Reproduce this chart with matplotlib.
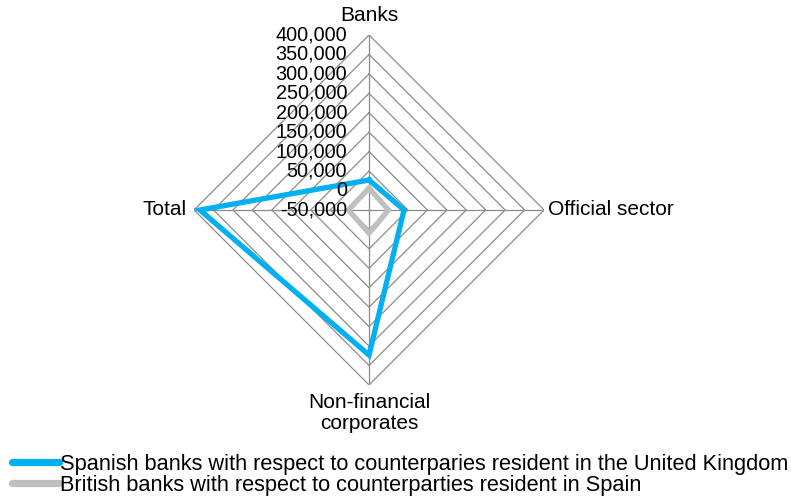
import numpy as np
import matplotlib.pyplot as plt
from matplotlib.lines import Line2D
from matplotlib.transforms import offset_copy

plt.rcParams["font.family"] = ["Liberation Sans", "DejaVu Sans"]

CATEGORIES = ["Banks", "Official sector", "Non-financial\ncorporates", "Total"]
SPANISH_IN_UK = [27000, 40000, 323000, 385000]
BRITISH_IN_SPAIN = [6000, 0, 10000, 3000]
SERIES_NAMES = [
    "Spanish banks with respect to counterparies resident in the United Kingdom",
    "British banks with respect to counterparties resident in Spain",
]
R_TICKS = list(range(-50000, 400001, 50000))

BLUE = "#00B0F0"
GREY = "#BFBFBF"
GRID = "#8C8C8C"

fig = plt.figure(figsize=(7.91, 4.97), dpi=100)
ax = fig.add_axes([0.2453, 0.2254, 0.4425, 0.7042], projection="polar")
ax.set_theta_offset(np.pi / 2)
ax.set_theta_direction(-1)
ax.set_rlim(R_TICKS[0], R_TICKS[-1])
ax.grid(False)
ax.spines["polar"].set_visible(False)
ax.set_xticks([])
ax.set_yticks([])
ax.patch.set_alpha(0)

theta = np.arange(len(CATEGORIES)) * 2 * np.pi / len(CATEGORIES)
theta_closed = np.append(theta, theta[0])

# diamond grid rings and spokes
for v in R_TICKS[1:]:
    ax.plot(theta_closed, [v] * len(theta_closed), color=GRID, lw=0.9, zorder=1)
for t in theta:
    ax.plot([t, t], [R_TICKS[0], R_TICKS[-1]], color=GRID, lw=0.9, zorder=1)

# series
for vals, color, z in [(SPANISH_IN_UK, BLUE, 4), (BRITISH_IN_SPAIN, GREY, 3)]:
    ax.plot(theta_closed, vals + vals[:1], color=color, lw=3.8,
            solid_joinstyle="miter", zorder=z)

# radial tick labels along the top spoke
tick_tf = offset_copy(ax.transData, fig=fig, x=-22, y=0, units="dots")
for v in R_TICKS:
    ax.text(0, v, f"{v:,}", transform=tick_tf, ha="right", va="center",
            fontsize=14.3, zorder=5)

# category labels
label_specs = [
    (0, 0, 10, "center", "bottom"),
    (1, 4, 0, "left", "center"),
    (2, 0, -8, "center", "top"),
    (3, -7, 0, "right", "center"),
]
for i, dx, dy, ha, va in label_specs:
    tf = offset_copy(ax.transData, fig=fig, x=dx, y=dy, units="dots")
    ax.text(theta[i], R_TICKS[-1], CATEGORIES[i], transform=tf, ha=ha, va=va,
            fontsize=15, multialignment="center", linespacing=1.15)

handles = [Line2D([], [], color=c, lw=5.2, solid_capstyle="round") for c in (BLUE, GREY)]
fig.legend(handles, SERIES_NAMES, loc="lower left", bbox_to_anchor=(12 / 791, 0.002),
           frameon=False, fontsize=15.7, handlelength=2.15, handletextpad=0.05,
           labelspacing=0.0, borderaxespad=0, borderpad=0)

fig.savefig("out.png", dpi=100)
